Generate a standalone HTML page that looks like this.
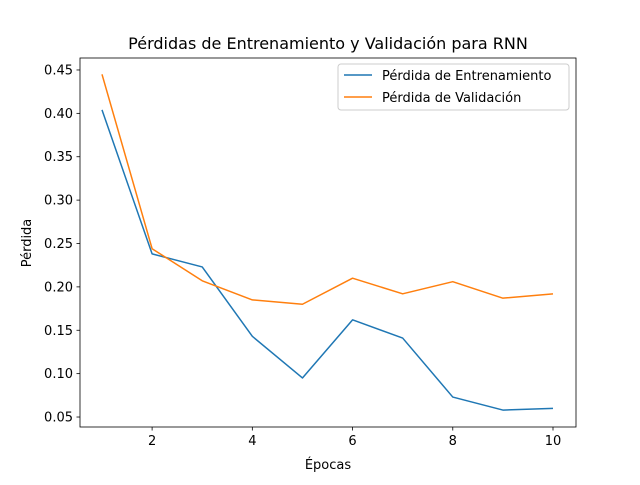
<!DOCTYPE html>
<html><head><meta charset="utf-8"><style>
body{margin:0;background:#fff;}
svg text{font-family:"DejaVu Sans","Liberation Sans",sans-serif;fill:#000;}
</style></head><body>
<svg id="chart" width="640" height="480" xmlns="http://www.w3.org/2000/svg">
<rect width="640" height="480" fill="#fff"/>
<text x="328" y="49" font-size="16" text-anchor="middle">Pérdidas de Entrenamiento y Validación para RNN</text>
<g id="ticks"></g>
<g id="lines"></g>
<rect x="80" y="58" width="496" height="369" fill="none" stroke="#000" stroke-width="0.8"/>
<text x="328" y="469" font-size="13" text-anchor="middle">Épocas</text>
<text x="31" y="243" font-size="13" text-anchor="middle" transform="rotate(-90 31 243)">Pérdida</text>
<g>
<rect x="338" y="64" width="231" height="46" rx="3" fill="#fff" fill-opacity="0.8" stroke="#ccc"/>
<line x1="344" y1="75" x2="372" y2="75" stroke="#1f77b4" stroke-width="1.5"/>
<text x="382" y="80" font-size="13">Pérdida de Entrenamiento</text>
<line x1="344" y1="97" x2="372" y2="97" stroke="#ff7f0e" stroke-width="1.5"/>
<text x="382" y="102" font-size="13">Pérdida de Validación</text>
</g>
</svg>
<script>
const epochs=[1,2,3,4,5,6,7,8,9,10];
const trainLoss=[0.404,0.238,0.223,0.143,0.095,0.162,0.141,0.073,0.058,0.060];
const valLoss=[0.445,0.244,0.207,0.185,0.180,0.210,0.192,0.206,0.187,0.192];
const xTicks=[2,4,6,8,10];
const yTicks=[0.05,0.10,0.15,0.20,0.25,0.30,0.35,0.40,0.45];
const X0=80,X1=576,Y0=427,Y1=58;
const xMin=0.561,xMax=10.459,yMin=0.0385,yMax=0.4638;
const sx=v=>X0+(v-xMin)/(xMax-xMin)*(X1-X0);
const sy=v=>Y0-(v-yMin)/(yMax-yMin)*(Y0-Y1);
const NS="http://www.w3.org/2000/svg";
const tg=document.getElementById('ticks'),lg=document.getElementById('lines');
function mk(t,a,p){const e=document.createElementNS(NS,t);for(const k in a)e.setAttribute(k,a[k]);p.appendChild(e);return e;}
xTicks.forEach(v=>{const x=sx(v);
 mk('line',{x1:x,x2:x,y1:Y0,y2:Y0+3.5,stroke:'#000','stroke-width':0.8},tg);
 const t=mk('text',{x:x,y:Y0+18,'font-size':13,'text-anchor':'middle'},tg);t.textContent=v;
 
 });
yTicks.forEach(v=>{const y=sy(v);
 mk('line',{x1:X0-3.5,x2:X0,y1:y,y2:y,stroke:'#000','stroke-width':0.8},tg);
 const t=mk('text',{x:X0-7,y:y+4.5,'font-size':13,'text-anchor':'end'},tg);t.textContent=v.toFixed(2);
 
 });
function line(d,c,n){const p=mk('polyline',{points:epochs.map((e,i)=>sx(e)+','+sy(d[i])).join(' '),fill:'none',stroke:c,'stroke-width':1.5,'stroke-linejoin':'round'},lg);
 
 }
line(trainLoss,'#1f77b4','train-loss-line');
line(valLoss,'#ff7f0e','val-loss-line');
</script>
</body></html>
